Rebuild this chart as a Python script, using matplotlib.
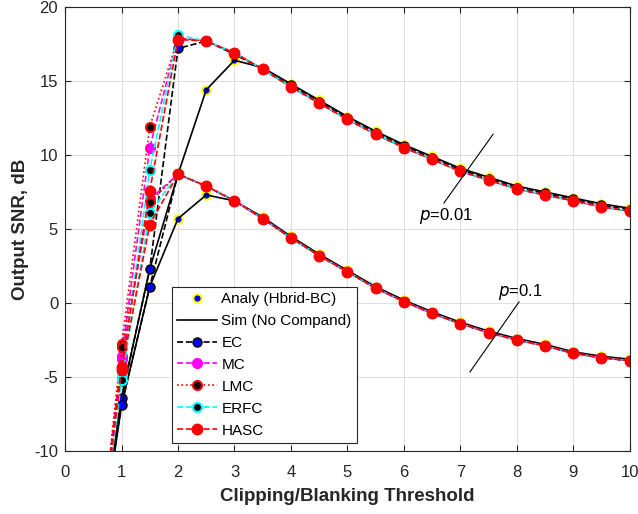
import matplotlib
matplotlib.use('Agg')
import matplotlib.pyplot as plt

plt.rcParams['font.family'] = ['Liberation Sans', 'DejaVu Sans']
plt.rcParams['axes.unicode_minus'] = False

# Clipping/blanking threshold
x = [0.5, 1, 1.5, 2, 2.5, 3, 3.5, 4, 4.5, 5, 5.5, 6, 6.5, 7, 7.5, 8, 8.5, 9, 9.5, 10]

# p = 0.01
analy_01 = [-19.5, -5.4, 2.3, 8.7, 14.4, 16.4, 15.9, 14.8, 13.7, 12.6, 11.6, 10.7, 9.9, 9.1, 8.5, 7.9, 7.5, 7.1, 6.7, 6.4]
sim_01 = [-19.5, -6.4, 2.3, 8.7, 14.4, 16.4, 15.9, 14.8, 13.7, 12.6, 11.6, 10.7, 9.9, 9.1, 8.5, 7.9, 7.5, 7.1, 6.7, 6.4]
ec_01 = [-18.0, -6.4, 2.3, 17.2, 17.7, 16.8, 15.8, 14.7, 13.6, 12.5, 11.5, 10.6, 9.8, 9.0, 8.4, 7.8, 7.4, 7.0, 6.6, 6.3]
mc_01 = [-20.0, -3.6, 10.5, 17.9, 17.7, 16.9, 15.8, 14.6, 13.5, 12.4, 11.4, 10.5, 9.7, 8.9, 8.3, 7.7, 7.3, 6.9, 6.5, 6.2]
lmc_01 = [-21.0, -2.8, 11.9, 17.9, 17.7, 16.9, 15.8, 14.6, 13.5, 12.4, 11.4, 10.5, 9.7, 8.9, 8.3, 7.7, 7.3, 6.9, 6.5, 6.2]
erfc_01 = [-20.0, -4.8, 9.0, 18.1, 17.7, 16.9, 15.8, 14.6, 13.5, 12.4, 11.4, 10.5, 9.7, 8.9, 8.3, 7.7, 7.3, 6.9, 6.5, 6.2]
hasc_01 = [-20.0, -4.3, 7.6, 17.8, 17.7, 16.9, 15.8, 14.6, 13.5, 12.4, 11.4, 10.5, 9.7, 8.9, 8.3, 7.7, 7.3, 6.9, 6.5, 6.2]

# p = 0.1
analy_1 = [-20.0, -6.9, 1.1, 5.7, 7.3, 6.9, 5.8, 4.5, 3.3, 2.2, 1.1, 0.2, -0.6, -1.3, -1.9, -2.4, -2.8, -3.3, -3.6, -3.8]
sim_1 = [-20.0, -6.9, 1.1, 5.7, 7.3, 6.9, 5.8, 4.5, 3.3, 2.2, 1.1, 0.2, -0.6, -1.3, -1.9, -2.4, -2.8, -3.3, -3.6, -3.8]
ec_1 = [-19.0, -6.9, 1.1, 8.7, 7.9, 6.9, 5.7, 4.4, 3.2, 2.1, 1.0, 0.1, -0.7, -1.4, -2.0, -2.5, -2.9, -3.4, -3.7, -3.9]
mc_1 = [-20.0, -3.8, 7.0, 8.7, 7.9, 6.9, 5.7, 4.4, 3.2, 2.1, 1.0, 0.1, -0.7, -1.4, -2.0, -2.5, -2.9, -3.4, -3.7, -3.9]
lmc_1 = [-21.0, -3.0, 6.8, 8.7, 7.9, 6.9, 5.7, 4.4, 3.2, 2.1, 1.0, 0.1, -0.7, -1.4, -2.0, -2.5, -2.9, -3.4, -3.7, -3.9]
erfc_1 = [-20.0, -5.2, 6.1, 8.7, 7.9, 6.9, 5.7, 4.4, 3.2, 2.1, 1.0, 0.1, -0.7, -1.4, -2.0, -2.5, -2.9, -3.4, -3.7, -3.9]
hasc_1 = [-20.0, -4.5, 5.3, 8.7, 7.9, 6.9, 5.7, 4.4, 3.2, 2.1, 1.0, 0.1, -0.7, -1.4, -2.0, -2.5, -2.9, -3.4, -3.7, -3.9]

fig = plt.figure(figsize=(6.38, 5.14), dpi=100)
ax = fig.add_axes([0.102, 0.1226, 0.885, 0.8638])

lw = 1.2
styles = [
    ('Analy (Hbrid-BC)', analy_01, analy_1, dict(ls='none', marker='o', ms=6, mfc='blue', mec='yellow', mew=1.5)),
    ('Sim (No Compand)', sim_01, sim_1, dict(ls='-', color='black', lw=lw)),
    ('EC', ec_01, ec_1, dict(ls='--', color='black', lw=lw, marker='o', ms=6.5, mfc='blue', mec='black', mew=1)),
    ('MC', mc_01, mc_1, dict(ls='--', color='magenta', lw=lw, marker='o', ms=7, mfc='magenta', mec='magenta', mew=1)),
    ('LMC', lmc_01, lmc_1, dict(ls=':', color='red', lw=lw, marker='o', ms=6.5, mfc='black', mec='red', mew=1.5)),
    ('ERFC', erfc_01, erfc_1, dict(ls='--', color='cyan', lw=lw, marker='o', ms=6.5, mfc='black', mec='cyan', mew=1.5)),
    ('HASC', hasc_01, hasc_1, dict(ls='--', color='red', lw=lw, marker='o', ms=7.5, mfc='red', mec='red', mew=1)),
]

for label, y01, y1, kw in styles:
    ax.plot(x, y01, label=label, **kw)
    ax.plot(x, y1, **kw)

# p markers
ax.plot([6.71, 7.58], [6.76, 11.4], color='black', lw=0.8)
ax.text(6.74, 5.9, '$p$=0.01', ha='center', va='center', fontsize=12)
ax.plot([7.17, 8.04], [-4.66, 0.07], color='black', lw=0.8)
ax.text(8.07, 0.75, '$p$=0.1', ha='center', va='center', fontsize=12)

ax.set_xlim(0, 10)
ax.set_ylim(-10, 20)
ax.set_xticks(range(0, 11))
ax.set_yticks(range(-10, 21, 5))
ax.grid(True, color='#dfdfdf', lw=0.8)
ax.set_axisbelow(True)
ax.tick_params(direction='in', top=True, right=True, labelsize=12, colors='#262626', length=4)
ax.tick_params(axis='x', pad=10)
ax.tick_params(axis='y', pad=5)
for s in ax.spines.values():
    s.set_color('#262626')
    s.set_linewidth(0.8)

ax.set_xlabel('Clipping/Blanking Threshold', fontsize=13.5, fontweight='bold', color='#262626', labelpad=6)
ax.set_ylabel('Output SNR, dB', fontsize=13.5, fontweight='bold', color='#262626', labelpad=4)

leg = ax.legend(loc='lower left', bbox_to_anchor=(0.189, 0.018), fontsize=11,
                fancybox=False, framealpha=1, edgecolor='#262626', borderaxespad=0,
                handlelength=2.6, handletextpad=0.3, labelspacing=0.52, borderpad=0.35)
leg.get_frame().set_linewidth(0.8)

fig.savefig('out.png', dpi=100)
